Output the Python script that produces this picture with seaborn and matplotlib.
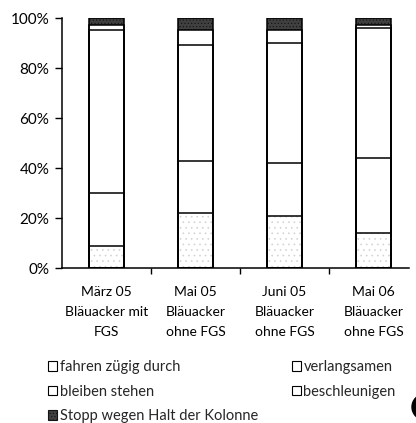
import matplotlib
matplotlib.use("Agg")
import matplotlib.pyplot as plt
from matplotlib.patches import Patch, Ellipse
import numpy as np
import pandas as pd
import seaborn as sns

# Categories (survey dates / locations)
categories = [
    "März 05\nBläuacker mit\nFGS",
    "Mai 05\nBläuacker\nohne FGS",
    "Juni 05\nBläuacker\nohne FGS",
    "Mai 06\nBläuacker\nohne FGS",
]

# Share of vehicles per behaviour (percent), stacked bottom to top
fahren_zuegig = [9, 22, 21, 14]
verlangsamen = [21, 21, 21, 30]
bleiben_stehen = [65, 46, 48, 52]
beschleunigen = [2, 6, 5, 1]
stopp_kolonne = [3, 5, 5, 3]

series_names = [
    "fahren zügig durch",
    "verlangsamen",
    "bleiben stehen",
    "beschleunigen",
    "Stopp wegen Halt der Kolonne",
]
y_ticks = [0, 20, 40, 60, 80, 100]

sns.set_theme(style="ticks")
plt.rcParams["font.family"] = ["Lato", "DejaVu Sans"]
plt.rcParams["hatch.linewidth"] = 0.45

df = pd.DataFrame({
    "kategorie": categories,
    series_names[0]: fahren_zuegig,
    series_names[1]: verlangsamen,
    series_names[2]: bleiben_stehen,
    series_names[3]: beschleunigen,
    series_names[4]: stopp_kolonne,
})
cum = df[series_names].cumsum(axis=1)

fig = plt.figure(figsize=(4.16, 4.23), dpi=100)
ax = fig.add_axes([62 / 416, 155 / 423, 356 / 416, 250 / 423])

fills = ["white", "white", "white", "white", "#404040"]
hatches = ["...", None, None, None, "....."]
hatch_cols = ["#d2d2d2", "white", "white", "white", "#151515"]
bar_w = 0.4

# Filled layers: cumulative bars painted from the top series downwards
for i in range(len(series_names) - 1, -1, -1):
    kw = {}
    if hatches[i]:
        kw["hatch"] = hatches[i]
    sns.barplot(x=df["kategorie"], y=cum[series_names[i]], color=fills[i],
                saturation=1, width=bar_w, linewidth=0,
                edgecolor=hatch_cols[i], ax=ax, **kw)

# Black outlines for every segment boundary
for i in range(len(series_names)):
    sns.barplot(x=df["kategorie"], y=cum[series_names[i]], fill=False,
                color="black", width=bar_w, linewidth=1.1, ax=ax)

ax.set_xlabel("")
ax.set_ylabel("")
ax.set_xlim(-0.5, 3.5)
ax.set_ylim(0, 100)
ax.set_yticks(y_ticks)
ax.set_yticklabels([f"{v}%" for v in y_ticks])
ax.tick_params(axis="y", length=5, width=1, color="black", labelsize=11,
               pad=4, labelcolor="black")

ax.set_xticks(range(len(categories)))
ax.set_xticklabels(categories, fontsize=10, linespacing=1.8, color="black")
ax.tick_params(axis="x", which="major", length=0, pad=13)
ax.set_xticks([0.5, 1.5, 2.5], minor=True)
ax.tick_params(axis="x", which="minor", length=4, width=1, color="black",
               direction="out")

for s in ["top", "right"]:
    ax.spines[s].set_visible(False)
for s in ["left", "bottom"]:
    ax.spines[s].set_color("black")
    ax.spines[s].set_linewidth(1.1)
ax.spines["bottom"].set_bounds(-0.5, 3.4)
ax.grid(False)

# Legend in two blocks
def box(fc):
    return Patch(facecolor=fc, edgecolor="black", linewidth=0.8)

h_fahren = box("white")
h_verl = box("white")
h_bleib = box("white")
h_besch = box("white")
h_stopp = Patch(facecolor="#404040", edgecolor="#151515", hatch=".....",
                linewidth=0.8)

leg_kw = dict(loc="upper left", frameon=False, fontsize=10.5,
              handlelength=0.62, handleheight=0.62, handletextpad=0.2,
              labelspacing=0.72, borderpad=0, borderaxespad=0)
leg1 = fig.legend([h_fahren, h_bleib, h_stopp],
                  [series_names[0], series_names[2], series_names[4]],
                  bbox_to_anchor=(48 / 416, 1 - 360 / 423), **leg_kw)
leg2 = fig.legend([h_verl, h_besch],
                  [series_names[1], series_names[3]],
                  bbox_to_anchor=(291.5 / 416, 1 - 360 / 423), **leg_kw)

fig.add_artist(Ellipse((424 / 416, 1 - 407 / 423), 24 / 416, 25 / 423,
                       transform=fig.transFigure, color="black"))

fig.savefig("out.png", dpi=100)
